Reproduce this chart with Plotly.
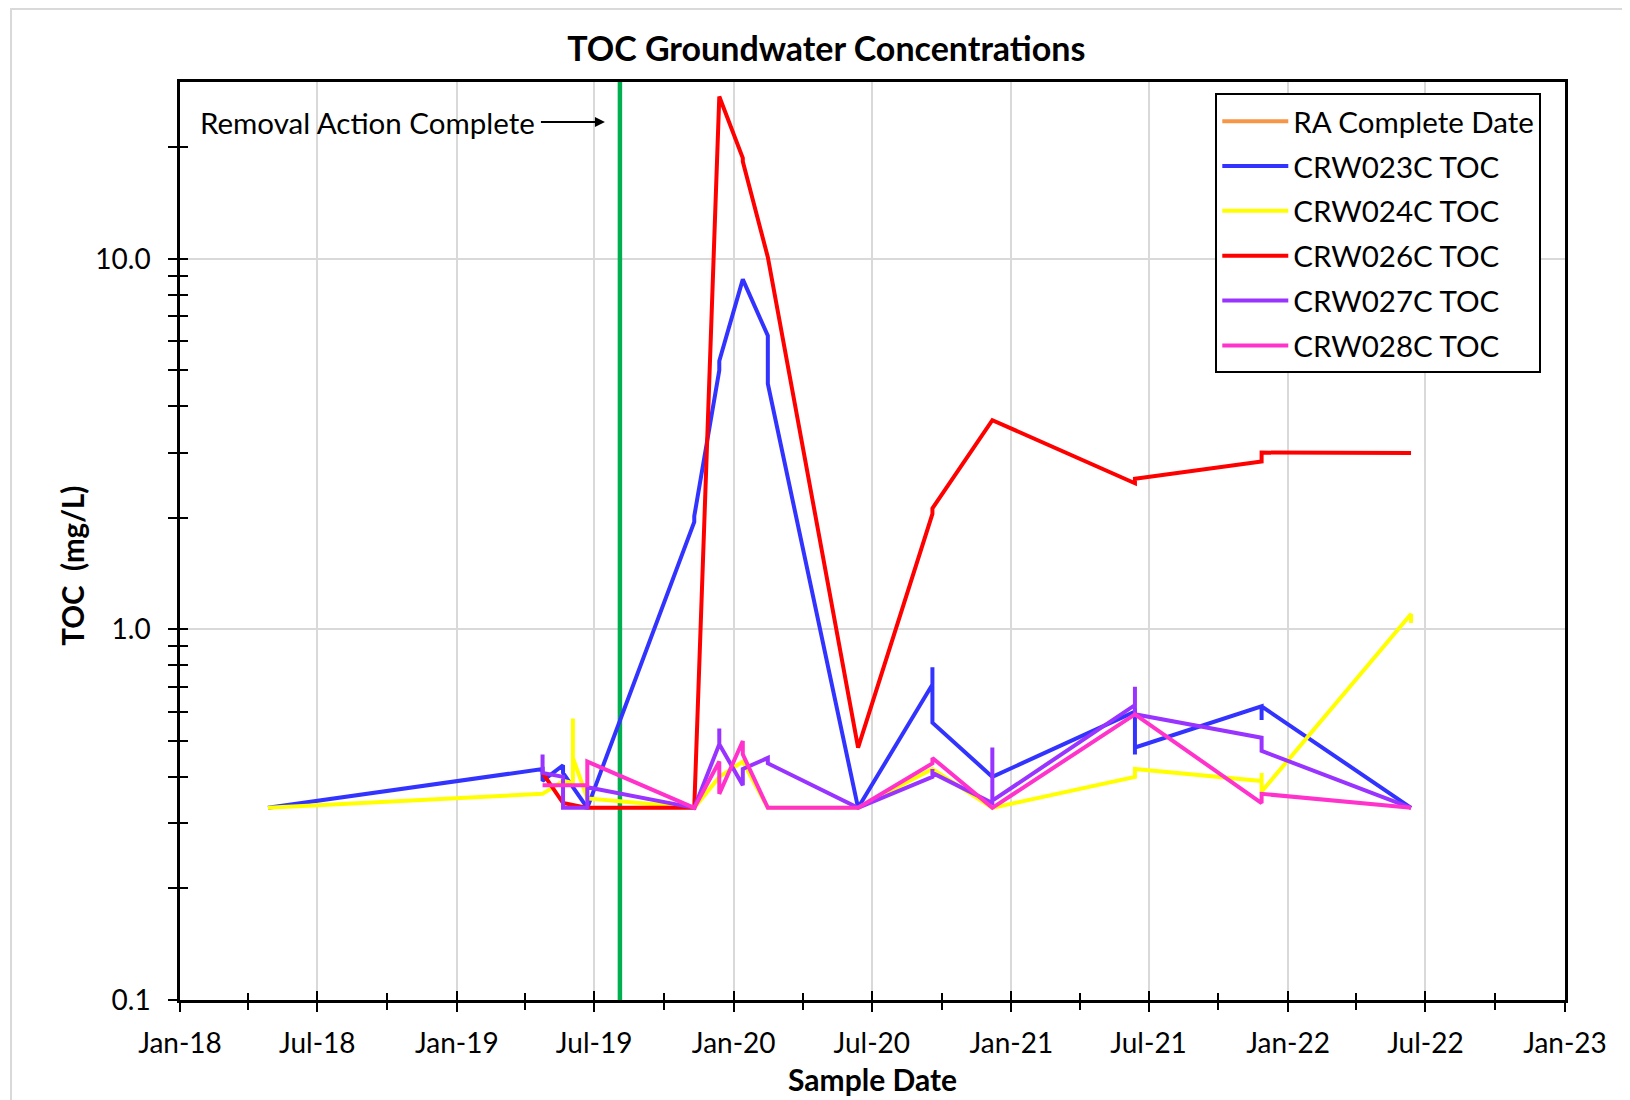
import plotly.graph_objects as go

# sample dates / TOC values (mg/L) per well
crw023c_dates = ["2018-04-27", "2019-04-24", "2019-04-24", "2019-05-21", "2019-05-21", "2019-06-22",
                 "2019-11-10", "2019-11-10", "2019-12-13", "2019-12-13", "2020-01-13", "2020-02-15",
                 "2020-02-15", "2020-06-13", "2020-09-19", "2020-09-19", "2020-09-19", "2020-12-07",
                 "2021-06-13", "2021-06-13", "2021-06-13", "2021-11-27", "2021-11-27", "2021-11-27",
                 "2022-06-12"]
crw023c_toc = [0.33, 0.42, 0.39, 0.43, 0.41, 0.33,
               1.95, 2.02, 5.0, 5.3, 8.8, 6.2,
               4.6, 0.33, 0.71, 0.79, 0.56, 0.40,
               0.60, 0.46, 0.48, 0.62, 0.57, 0.62,
               0.33]

crw024c_dates = ["2018-04-27", "2019-04-24", "2019-05-21", "2019-06-03", "2019-06-03", "2019-06-03",
                 "2019-06-22", "2019-11-10", "2019-12-13", "2020-01-13", "2020-02-15", "2020-06-13",
                 "2020-09-19", "2020-12-07", "2021-06-13", "2021-06-13", "2021-11-27", "2021-11-27",
                 "2021-11-27", "2022-06-12", "2022-06-12"]
crw024c_toc = [0.33, 0.36, 0.39, 0.385, 0.575, 0.45,
               0.35, 0.33, 0.40, 0.44, 0.33, 0.33,
               0.42, 0.33, 0.40, 0.42, 0.39, 0.41,
               0.365, 1.10, 1.04]

crw026c_dates = ["2019-04-24", "2019-05-21", "2019-06-22", "2019-11-10", "2019-12-13", "2020-01-13",
                 "2020-01-13", "2020-02-15", "2020-06-13", "2020-09-19", "2020-09-19", "2020-12-07",
                 "2021-06-13", "2021-06-13", "2021-11-27", "2021-11-27", "2022-06-12"]
crw026c_toc = [0.41, 0.34, 0.33, 0.33, 27.4, 18.7,
               18.3, 10.1, 0.48, 2.05, 2.12, 3.67,
               2.48, 2.55, 2.84, 3.0, 2.99]

crw027c_dates = ["2019-04-24", "2019-04-24", "2019-05-21", "2019-05-21", "2019-06-22", "2019-06-22",
                 "2019-11-10", "2019-12-13", "2019-12-13", "2019-12-13", "2020-01-13", "2020-01-13",
                 "2020-02-15", "2020-02-15", "2020-06-13", "2020-09-19", "2020-09-19", "2020-09-19",
                 "2020-12-07", "2020-12-07", "2020-12-07", "2021-06-13", "2021-06-13", "2021-06-13",
                 "2021-11-27", "2021-11-27", "2022-06-12"]
crw027c_toc = [0.46, 0.41, 0.40, 0.33, 0.33, 0.375,
               0.33, 0.49, 0.54, 0.49, 0.38, 0.42,
               0.45, 0.435, 0.33, 0.40, 0.42, 0.41,
               0.34, 0.48, 0.345, 0.625, 0.70, 0.59,
               0.51, 0.47, 0.33]

crw028c_dates = ["2019-04-24", "2019-05-21", "2019-06-22", "2019-06-22", "2019-11-10", "2019-12-13",
                 "2019-12-13", "2020-01-13", "2020-01-13", "2020-02-15", "2020-06-13", "2020-09-19",
                 "2020-09-19", "2020-12-07", "2021-06-13", "2021-11-27", "2021-11-27", "2022-06-12"]
crw028c_toc = [0.38, 0.38, 0.38, 0.44, 0.33, 0.44,
               0.36, 0.50, 0.46, 0.33, 0.33, 0.435,
               0.45, 0.33, 0.59, 0.34, 0.36, 0.33]

ra_complete_dates = ["2019-08-04", "2019-08-04"]
ra_complete_y = [0.1, 30]

y_major = [0.1, 1, 10]
y_major_text = ["0.1", "1.0", "10.0"]
y_minor = [0.2, 0.3, 0.4, 0.5, 0.6, 0.7, 0.8, 0.9, 2, 3, 4, 5, 6, 7, 8, 9, 20]

FONT = "Lato, 'Open Sans', sans-serif"
series = [
    ("CRW023C TOC", crw023c_dates, crw023c_toc, "#3333FF"),
    ("CRW024C TOC", crw024c_dates, crw024c_toc, "#FFFF00"),
    ("CRW026C TOC", crw026c_dates, crw026c_toc, "#FF0000"),
    ("CRW027C TOC", crw027c_dates, crw027c_toc, "#9933FF"),
    ("CRW028C TOC", crw028c_dates, crw028c_toc, "#FF33CC"),
]

fig = go.Figure()

# removal action line (green on the chart, orange swatch in the legend)
fig.add_trace(go.Scatter(x=ra_complete_dates, y=ra_complete_y, mode="lines",
                         line=dict(color="#00B050", width=4.5), showlegend=False,
                         hoverinfo="skip"))
fig.add_trace(go.Scatter(x=[None], y=[None], mode="lines", name="RA Complete Date",
                         line=dict(color="#F79646", width=4), legendgroup="ra"))

for name, dates, vals, color in series:
    fig.add_trace(go.Scatter(x=dates, y=vals, mode="lines", name=name, legendgroup=name,
                             line=dict(color=color, width=4)))

# empty trace so the overlay axes (inside half of the crossing ticks) get drawn
fig.add_trace(go.Scatter(x=[None], y=[None], xaxis="x2", yaxis="y2", showlegend=False))

x_range = ["2018-01-01", "2023-01-01"]
y_range = [-1, 1.4771]

fig.update_layout(
    width=1630, height=1100,
    margin=dict(l=172, r=73, t=74, b=108),
    paper_bgcolor="white", plot_bgcolor="white",
    font=dict(family=FONT, size=28, color="black"),
    title=dict(text="<b>TOC Groundwater Concentrations</b>", x=0.502, xref="container",
               xanchor="center", y=0.9627, yref="container", yanchor="middle",
               font=dict(size=34, family=FONT)),
    xaxis=dict(type="date", range=x_range, tick0="2018-01-01", dtick="M6", tickformat="%b-%y",
               ticks="outside", ticklen=9, tickwidth=2, tickcolor="black",
               showline=True, linecolor="black", linewidth=2.5, mirror=True,
               showgrid=True, gridcolor="#D9D9D9", gridwidth=2, zeroline=False,
               ticklabelstandoff=8,
               minor=dict(dtick="M3", tick0="2018-01-01", ticks="outside", ticklen=7,
                          tickwidth=2, tickcolor="black", showgrid=False),
               title=dict(text="<b>Sample Date</b>", standoff=12, font=dict(size=30))),
    yaxis=dict(type="log", range=y_range, tickmode="array", tickvals=y_major, ticktext=y_major_text,
               ticks="outside", ticklen=9, tickwidth=2, tickcolor="black",
               showline=True, linecolor="black", linewidth=2.5, mirror=True,
               showgrid=True, gridcolor="#D9D9D9", gridwidth=2, zeroline=False,
               ticklabelstandoff=12,
               minor=dict(tickmode="array", tickvals=y_minor, ticks="outside", ticklen=9,
                          tickwidth=2, tickcolor="black", showgrid=False)),
    xaxis2=dict(type="date", range=x_range, overlaying="x", anchor="y", side="bottom",
                tick0="2018-01-01", dtick="M6", ticks="inside", ticklen=9, tickwidth=2,
                tickcolor="black", showticklabels=False, showgrid=False, showline=False,
                zeroline=False,
                minor=dict(dtick="M3", tick0="2018-01-01", ticks="inside", ticklen=7,
                           tickwidth=2, tickcolor="black", showgrid=False)),
    yaxis2=dict(type="log", range=y_range, overlaying="y", anchor="x", side="left",
                tickmode="array", tickvals=y_major + y_minor, ticks="inside", ticklen=8,
                tickwidth=2, tickcolor="black", showticklabels=False, showgrid=False,
                showline=False, zeroline=False),
    legend=dict(x=0.7475, y=0.9875, xanchor="left", yanchor="top", bgcolor="white",
                bordercolor="black", borderwidth=2, tracegroupgap=3.5, itemwidth=66,
                font=dict(size=29.5, family=FONT)),
    showlegend=True,
)

# light grey chart-area frame
fig.add_shape(type="rect", xref="paper", yref="paper", x0=-0.122, y0=-0.12, x1=1.06, y1=1.0795,
              line=dict(color="#D9D9D9", width=2), layer="below")

# y-axis title sits a little below the plot centre in the original, so place it by hand
fig.add_annotation(x=-0.0774, y=0.4728, xref="paper", yref="paper", textangle=-90,
                   xanchor="center", yanchor="middle",
                   text="<b>TOC\u00a0 (mg/L)</b>", showarrow=False,
                   font=dict(size=29.5, family=FONT))

fig.add_annotation(x=ra_complete_dates[0], y=0.9564, xref="x", yref="paper",
                   text="Removal Action Complete", showarrow=True, ax=-252, ay=0,
                   arrowhead=2, arrowsize=1, arrowwidth=2, arrowcolor="black", standoff=15,
                   borderpad=5, font=dict(size=29.5, family=FONT))

fig.write_html("out.html")
